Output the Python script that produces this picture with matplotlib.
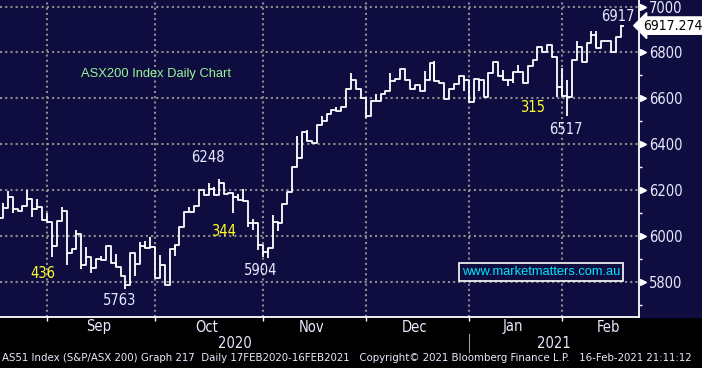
import numpy as np
import pandas as pd
import matplotlib
matplotlib.use('Agg')
import matplotlib.pyplot as plt
import matplotlib.transforms as mtransforms
from matplotlib.patches import Rectangle

# ASX200 daily closes, 18 Aug 2020 .. 17 Feb 2021
closes = [6076, 6120, 6171, 6116, 6110, 6132, 6159, 6116, 6124, 6069,
          6059, 5956, 6065, 6110, 5924, 5943, 6007, 5873, 5906, 5858,
          5897, 5895, 5956, 5880, 5866, 5825, 5785, 5924, 5876, 5956,
          5945, 5950, 5815, 5873, 5785, 5941, 5960, 6037, 6105, 6105,
          6130, 6200, 6178, 6205, 6178, 6229, 6181, 6188, 6171, 6156,
          6153, 6054, 6054, 5959, 5930, 5949, 6061, 6058, 6139, 6193,
          6302, 6339, 6451, 6416, 6404, 6485, 6500, 6531, 6548, 6545,
          6564, 6642, 6682, 6639, 6603, 6524, 6588, 6588, 6617, 6632,
          6675, 6685, 6728, 6679, 6642, 6660, 6632, 6682, 6754, 6675,
          6668, 6599, 6642, 6663, 6699, 6679, 6584, 6685, 6679, 6607,
          6711, 6758, 6696, 6682, 6682, 6715, 6715, 6665, 6742, 6768,
          6826, 6800, 6833, 6780, 6650, 6610, 6607, 6768, 6826, 6760,
          6843, 6876, 6819, 6852, 6850, 6804, 6866, 6917.274]

# intraday highs / lows that stick out of the close-to-close steps
hi_idx = [1, 2, 6, 8, 10, 13, 16, 18, 21, 24, 29, 30, 31, 33, 39, 43, 44, 45, 49, 50,
          52, 56, 61, 63, 66, 69, 72, 77, 80, 87, 89, 95, 103, 106, 115, 116, 118, 121, 122]
hi_val = [6142, 6197, 6200, 6159, 6098, 6127, 6025, 5953, 5913, 5921, 5975, 5978, 5996, 5916,
          6127, 6232, 6212, 6247, 6181, 6203, 6072, 6090, 6436, 6463, 6521, 6564, 6711, 6617,
          6711, 6720, 6764, 6699, 6722, 6744, 6733, 6682, 6852, 6895, 6895]
lo_idx = [3, 7, 11, 14, 17, 19, 26, 28, 36, 48, 51, 52, 53, 54, 55, 57, 75, 95, 98, 104,
          105, 114, 116]
lo_val = [6098, 6081, 5909, 5873, 5854, 5839, 5767, 5825, 5912, 6101, 6039, 6025, 5940, 5908,
          5905, 6020, 6516, 6632, 6631, 6655, 6668, 6606, 6521]

price_ticks = [5800, 6000, 6200, 6400, 6600, 6800, 7000]
minor_ticks = [5700, 5900, 6100, 6300, 6500, 6700, 6900]
holidays = ['2020-12-25', '2020-12-28', '2021-01-01', '2021-01-26']

navy = '#0f0d40'
txt = '#e8eaff'
yellow = '#ffff2a'
narrow = dict(family='DejaVu Sans', stretch='condensed')

# trading calendar (through end of Feb so the Feb label can be centred)
cal = pd.bdate_range('2020-08-18', '2021-02-26')
cal = cal[~cal.isin(pd.to_datetime(holidays))]
pos = np.arange(len(cal))
month_id = cal.year * 12 + cal.month
starts = pos[np.r_[True, month_id[1:] != month_id[:-1]]][1:]   # Sep .. Feb
month_lab = [cal[s].strftime('%b') for s in starts]
month_mid = [pos[month_id == month_id[s]].mean() for s in starts]
jan = starts[month_lab.index('Jan')]

x = np.arange(len(closes))
c = np.array(closes)

fig = plt.figure(figsize=(7.02, 3.68), dpi=100, facecolor='black')
fig.patches.append(Rectangle((0, 0.1386), 1, 0.8614, transform=fig.transFigure,
                             color=navy, zorder=-10))
ax = fig.add_axes([0, 0.1386, 639 / 702, 0.8614])
ax.set_facecolor(navy)

ax.set_xlim(starts[0] - 9.58, starts[0] + 120.7)
ax.set_ylim(5646, 7029)

# grid
for s in starts:
    ax.axvline(s, color='#8c8c8c', lw=1.5, ls=(0, (1, 1.5)), zorder=1)
for p in price_ticks:
    ax.axhline(p, color='#8c8c8c', lw=1.5, ls=(0, (1, 1.5)), zorder=1)

# price bars: close-to-close steps plus high/low wicks
lw = 1.3
ax.step(x, c, where='post', color='white', lw=lw, zorder=3)
ax.plot([x[-1], x[-1] + 0.5], [c[-1], c[-1]], color='white', lw=lw, zorder=3)
ax.vlines(hi_idx, c[hi_idx], hi_val, color='white', lw=lw, zorder=3)
ax.vlines(lo_idx, c[lo_idx], lo_val, color='white', lw=lw, zorder=3)

# axes styling
for side in ['top', 'left']:
    ax.spines[side].set_visible(False)
for side in ['right', 'bottom']:
    ax.spines[side].set_color('white')
    ax.spines[side].set_linewidth(1.3)

ax.yaxis.tick_right()
ax.set_yticks(price_ticks)
ax.set_yticklabels([str(p) for p in price_ticks], fontsize=10.5, color=txt, **narrow)
ax.set_yticks(minor_ticks, minor=True)
ax.tick_params(axis='y', which='major', length=0, pad=7)
ax.tick_params(axis='y', which='minor', length=2.5, width=1, color='white', direction='out')
ax.set_xticks(starts)
ax.set_xticklabels([])
ax.tick_params(axis='x', length=3, width=1, color='white', direction='out')

yblend = mtransforms.blended_transform_factory(ax.transAxes, ax.transData)
ax.plot([1.0065] * len(price_ticks), price_ticks, ls='', marker='>', ms=5,
        color='white', transform=yblend, clip_on=False, zorder=5)

# last price tag
ax.text(1.006, closes[-1], '6917.274', transform=yblend, ha='left', va='center',
        fontsize=10, color='black', zorder=6, clip_on=False,
        bbox=dict(boxstyle='larrow,pad=0.12', fc='white', ec='white'), **narrow)

# month / year labels
xfig = mtransforms.blended_transform_factory(ax.transData, fig.transFigure)
for lab, m in zip(month_lab, month_mid):
    ax.text(m, 1 - 327 / 368, lab, transform=xfig, ha='center', va='center',
            fontsize=10.5, color=txt, clip_on=False, **narrow)
left, right = ax.get_xlim()
ax.text((left + jan) / 2, 1 - 343 / 368, '2020', transform=xfig, ha='center', va='center',
        fontsize=10.5, color=txt, clip_on=False, **narrow)
ax.text((jan + right) / 2, 1 - 343 / 368, '2021', transform=xfig, ha='center', va='center',
        fontsize=10.5, color=txt, clip_on=False, **narrow)
ax.plot([jan, jan], [1 - 334 / 368, 1 - 352 / 368], color='#9a9a9a', lw=0.8,
        transform=xfig, clip_on=False)

# chart annotations
for s, xi, yi, col in [('6917', 126.4, 6959, txt), ('315', 109.1, 6558, yellow),
                       ('6517', 115.8, 6466, txt), ('6248', 42.8, 6340, txt),
                       ('344', 46.1, 6017, yellow), ('5904', 53.6, 5847, txt),
                       ('436', 9.2, 5834, yellow), ('5763', 24.9, 5716, txt)]:
    ax.text(xi, yi, s, ha='center', va='center', fontsize=10.5,
            color=col, zorder=6, **narrow)

ax.text(16.9, 6706, 'ASX200 Index Daily Chart', ha='left', va='center',
        family=['Liberation Sans', 'DejaVu Sans'], fontsize=9.3, color='#98f598', zorder=6)
ax.text(110.7, 5842, 'www.marketmatters.com.au', ha='center', va='center',
        family=['Liberation Sans', 'DejaVu Sans'], fontsize=9.3, color='#00e6ff', zorder=6,
        bbox=dict(boxstyle='square,pad=0.2', fc=navy, ec='white', lw=1.2))

fig.text(0.003, 1 - 358 / 368,
         'AS51 Index (S&P/ASX 200) Graph 217  Daily 17FEB2020-16FEB2021   '
         'Copyright\u00a9 2021 Bloomberg Finance L.P.   16-Feb-2021 21:11:12',
         ha='left', va='center', fontsize=8.2, color=txt, **narrow)

fig.savefig('out.png', dpi=100, facecolor='black')
